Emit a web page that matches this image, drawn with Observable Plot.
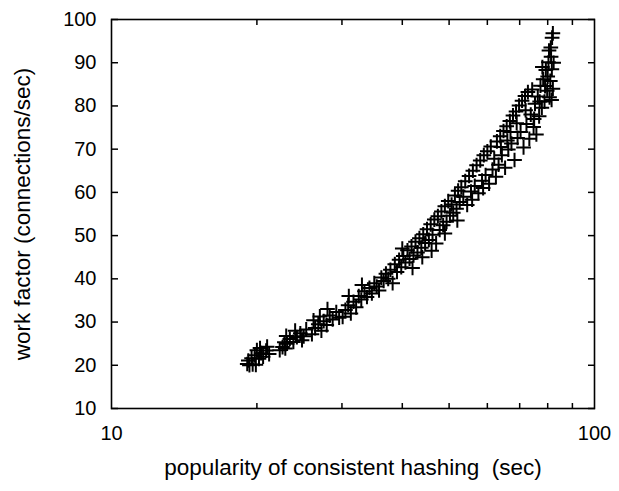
<!DOCTYPE html>
<html>
<head>
<meta charset="utf-8">
<script src="https://cdn.jsdelivr.net/npm/d3@7"></script>
<script src="https://cdn.jsdelivr.net/npm/@observablehq/plot@0.6"></script>
<style>
  html, body { margin: 0; padding: 0; background: #fff; }
</style>
</head>
<body>
<div id="chart"></div>
<script>
// popularity of consistent hashing (sec)
const popularity = [
  19.1,19.3,19.6,19.9,19.2,19.5,19.8,20.2,20.4,20.6,20.9,21.2,20.0,21.0,20.3,
  22.3,22.6,22.9,23.1,23.4,23.0,23.8,24.2,24.6,24.0,25.0,25.3,24.8,22.8,
  26.0,26.4,26.8,27.2,27.5,27.9,26.2,28.3,28.7,29.2,29.6,27.0,28.0,
  30.1,30.5,30.9,31.3,31.7,32.1,32.5,32.9,33.4,33.8,34.2,34.6,35.0,35.4,35.8,36.2,31.0,33.0,
  36.6,37.0,37.4,37.8,38.2,38.6,39.0,39.4,39.8,40.2,40.6,41.0,41.4,41.8,42.2,42.6,43.0,43.4,43.8,44.2,40.0,42.0,44.0,
  44.6,45.0,45.4,45.8,46.2,46.6,47.0,47.4,47.8,48.2,48.6,49.0,49.4,49.8,50.2,50.6,51.0,51.4,51.8,52.2,46.0,49.0,52.0,
  52.6,53.0,53.5,54.0,54.5,55.0,55.5,56.0,56.5,57.0,57.5,58.0,58.5,59.0,59.5,60.0,60.5,61.0,61.5,62.0,55.8,58.8,62.5,
  62.8,63.3,63.8,64.3,64.8,65.3,65.8,66.3,66.8,67.3,67.8,68.3,68.8,69.3,69.8,70.3,70.8,71.3,71.8,72.3,66.0,69.0,72.0,64.0,67.0,
  72.8,73.3,73.8,74.3,74.8,75.3,75.8,76.3,76.8,77.3,77.8,78.3,78.8,79.3,79.8,80.3,80.7,81.0,81.3,81.6,80.0,79.0,78.0,80.5,81.2,82.0,81.7,82.3,82.0,81.5,75.0,77.0
];
// work factor (connections/sec)
const workFactor = [
  20.3,20.0,20.2,20.1,21.1,21.6,22.3,21.5,22.8,22.0,23.4,22.6,23.5,24.3,24.0,
  23.5,24.2,23.9,25.0,26.1,26.8,25.4,26.5,27.4,28.0,26.7,28.3,25.8,25.3,
  27.2,28.6,29.5,28.0,30.2,29.3,30.4,31.5,30.6,32.3,31.0,31.3,33.0,
  31.2,32.8,33.9,32.0,34.7,33.4,36.0,35.2,37.1,35.8,37.9,36.6,39.0,38.2,37.3,40.3,36.0,38.6,
  39.5,41.2,40.0,42.1,39.0,43.4,41.6,44.4,42.7,45.3,43.8,46.6,44.6,47.5,45.4,48.6,46.1,49.4,47.2,50.3,47.0,42.5,45.0,
  48.3,51.5,49.0,52.6,50.2,53.7,48.2,54.5,51.3,55.6,52.4,56.8,53.2,58.0,54.6,57.2,55.3,59.3,56.2,60.4,46.5,50.5,53.5,
  57.8,61.2,59.0,62.6,57.1,63.8,60.2,65.0,61.5,66.3,59.8,67.4,62.7,68.6,64.0,69.5,62.0,70.6,65.3,67.8,58.3,61.0,63.6,
  71.8,66.4,73.0,68.6,74.2,65.7,75.3,69.9,76.5,71.3,77.8,67.5,78.7,72.6,80.1,74.0,81.2,70.4,82.3,75.8,72.0,76.0,79.0,70.5,74.0,
  83.2,72.4,78.0,83.8,75.1,80.5,73.4,82.2,77.6,84.7,79.6,86.2,81.0,88.3,83.5,90.1,82.0,85.8,91.4,88.5,86.8,84.6,89.0,92.8,93.5,96.8,95.8,90.0,84.0,81.4,77.0,81.0
];
const xMajorTicks = [10, 100];
const xMinorTicks = [20, 30, 40, 50, 60, 70, 80, 90];
const yTicks = [10, 20, 30, 40, 50, 60, 70, 80, 90, 100];
const xLabel = "popularity of consistent hashing  (sec)";
const yLabel = "work factor (connections/sec)";

const points = popularity.map((x, i) => ({x, y: workFactor[i]}));

const font = "'Liberation Sans', Arial, Helvetica, sans-serif";

const chart = Plot.plot({
  width: 619,
  height: 491,
  marginLeft: 111,
  marginRight: 25,
  marginTop: 19,
  marginBottom: 83,
  style: {fontFamily: font, fontSize: "20px", color: "#000", background: "#fff", overflow: "visible"},
  x: {type: "log", domain: [10, 100]},
  y: {domain: [10, 100]},
  marks: [
    Plot.dot(points, {x: "x", y: "y", symbol: "plus", r: 4.8, stroke: "#000", strokeWidth: 2}),
    Plot.axisX({anchor: "bottom", ticks: xMinorTicks, tickSize: -5, tickFormat: () => "", strokeWidth: 1.5, label: null}),
    Plot.axisX({anchor: "top", ticks: xMinorTicks, tickSize: -5, tickFormat: () => "", strokeWidth: 1.5, label: null}),
    Plot.axisX({anchor: "bottom", ticks: xMajorTicks, tickSize: 0, tickPadding: 17, tickFormat: d => String(d), fontSize: 20, label: null}),
    Plot.axisY({anchor: "left", ticks: yTicks, tickSize: -7, tickPadding: 22, tickFormat: d => String(d), strokeWidth: 1.5, fontSize: 20, label: null}),
    Plot.axisY({anchor: "right", ticks: yTicks, tickSize: -7, tickFormat: () => "", strokeWidth: 1.5, label: null}),
    Plot.frame({stroke: "#000", strokeWidth: 1.6}),
    Plot.text([xLabel], {frameAnchor: "bottom", dy: 66, fontSize: 22.5, text: d => d, fill: "#000"}),
    Plot.text([yLabel], {frameAnchor: "left", dx: -89, rotate: -90, textAnchor: "middle", fontSize: 22.5, text: d => d, fill: "#000"})
  ]
});
document.getElementById("chart").appendChild(chart);
</script>
</body>
</html>
